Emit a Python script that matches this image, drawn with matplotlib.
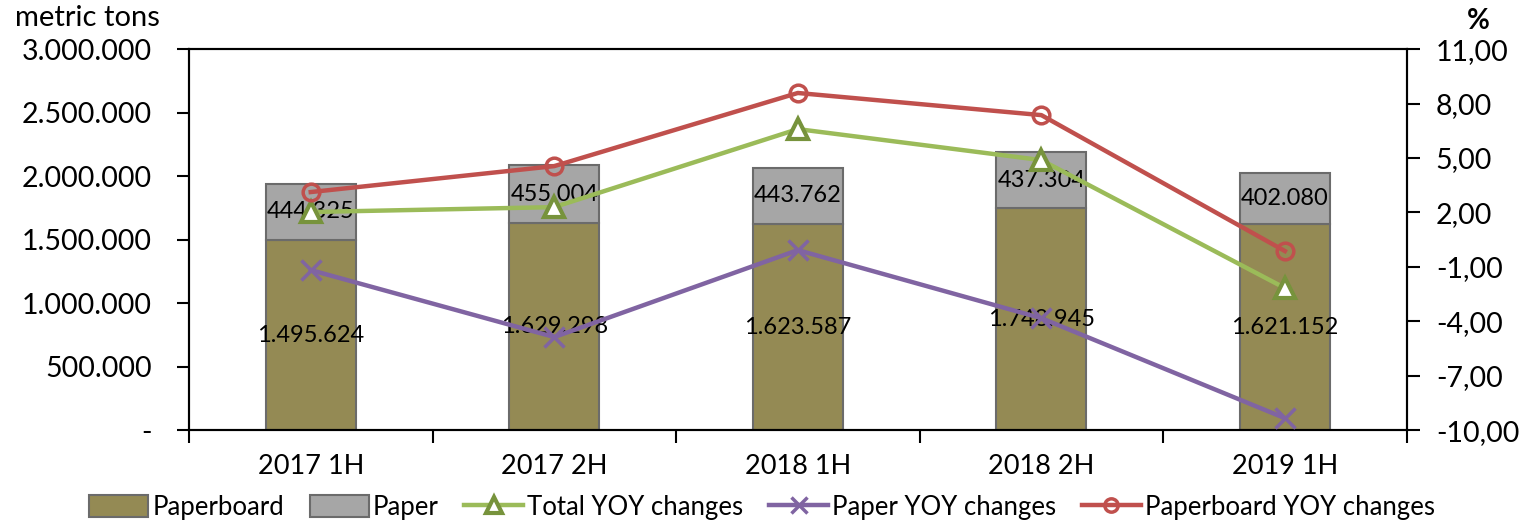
import numpy as np
import matplotlib.pyplot as plt
from matplotlib.ticker import FuncFormatter, FixedLocator

plt.rcParams['font.family'] = ['Lato', 'DejaVu Sans']

periods = ['2017 1H', '2017 2H', '2018 1H', '2018 2H', '2019 1H']
paperboard = [1495624, 1629298, 1623587, 1748945, 1621152]
paper = [444325, 455004, 443762, 437304, 402080]
total_yoy = [2.02, 2.29, 6.59, 4.88, -2.17]
paper_yoy = [-1.18, -4.87, -0.08, -3.83, -9.34]
paperboard_yoy = [3.12, 4.55, 8.58, 7.36, -0.13]

def dots(v):
    return f"{int(v):,}".replace(',', '.')

fig = plt.figure(figsize=(15.24, 5.22), dpi=100)
ax = fig.add_axes([0.124, 0.176, 0.799, 0.730])
x = np.arange(len(periods))

b1 = ax.bar(x, paperboard, width=0.37, color='#948A54', edgecolor='#6b6b6b',
            linewidth=1.5, label='Paperboard', zorder=2)
b2 = ax.bar(x, paper, width=0.37, bottom=paperboard, color='#A6A6A6',
            edgecolor='#6b6b6b', linewidth=1.5, label='Paper', zorder=2)

for i in range(len(periods)):
    ax.text(x[i], paperboard[i] / 2, dots(paperboard[i]), ha='center',
            va='center', fontsize=17, zorder=5)
    ax.text(x[i], paperboard[i] + paper[i] / 2, dots(paper[i]), ha='center',
            va='center', fontsize=17, zorder=5)

ax.set_xlim(-0.5, len(periods) - 0.5)
ax.set_ylim(0, 3000000)
ax.set_yticks(np.arange(0, 3000001, 500000))
ax.yaxis.set_major_formatter(FuncFormatter(lambda v, p: '-' if v == 0 else dots(v)))
ax.set_xticks(x)
ax.set_xticklabels(periods)
ax.xaxis.set_minor_locator(FixedLocator(np.arange(-0.5, len(periods), 1)))
ax.tick_params(axis='x', which='major', length=0, labelsize=19.5, pad=17)
ax.tick_params(axis='x', which='minor', length=9, width=1.5, direction='out')
ax.tick_params(axis='y', length=9, width=1.5, labelsize=20.5, pad=18)
for s in ax.spines.values():
    s.set_linewidth(1.5)

ax2 = ax.twinx()
ax2.set_ylim(-10, 11)
ax2.set_yticks(np.arange(-10, 12, 3))
ax2.yaxis.set_major_formatter(FuncFormatter(lambda v, p: f"{v:.2f}".replace('.', ',')))
ax2.tick_params(axis='y', length=9, width=1.5, labelsize=20.5, pad=12)
for s in ax2.spines.values():
    s.set_linewidth(1.5)

l1, = ax2.plot(x, total_yoy, color='#9BBB59', lw=3.2, marker='^', ms=15,
               mfc='white', mec='#77933C', mew=3, label='Total YOY changes', zorder=3)
l2, = ax2.plot(x, paper_yoy, color='#8064A2', lw=3.2, marker='x', ms=14,
               mew=2.5, label='Paper YOY changes', zorder=3)
l3, = ax2.plot(x, paperboard_yoy, color='#C0504D', lw=3.2, marker='o', ms=12,
               mfc='none', mec='#C0504D', mew=2.5, label='Paperboard YOY changes', zorder=3)

fig.text(0.010, 0.965, 'metric tons', fontsize=21, va='center', ha='left')
fig.text(0.970, 0.960, '%', fontsize=20, fontweight='bold', va='center', ha='center')

fig.legend([b1, b2, l1, l2, l3],
           ['Paperboard', 'Paper', 'Total YOY changes', 'Paper YOY changes',
            'Paperboard YOY changes'],
           loc='lower center', bbox_to_anchor=(0.5, -0.04), ncol=5, frameon=False,
           fontsize=18.5, handlelength=2.3, handleheight=0.9, handletextpad=0.15,
           columnspacing=1.0, markerscale=0.8)

fig.savefig('out.png', dpi=100)
